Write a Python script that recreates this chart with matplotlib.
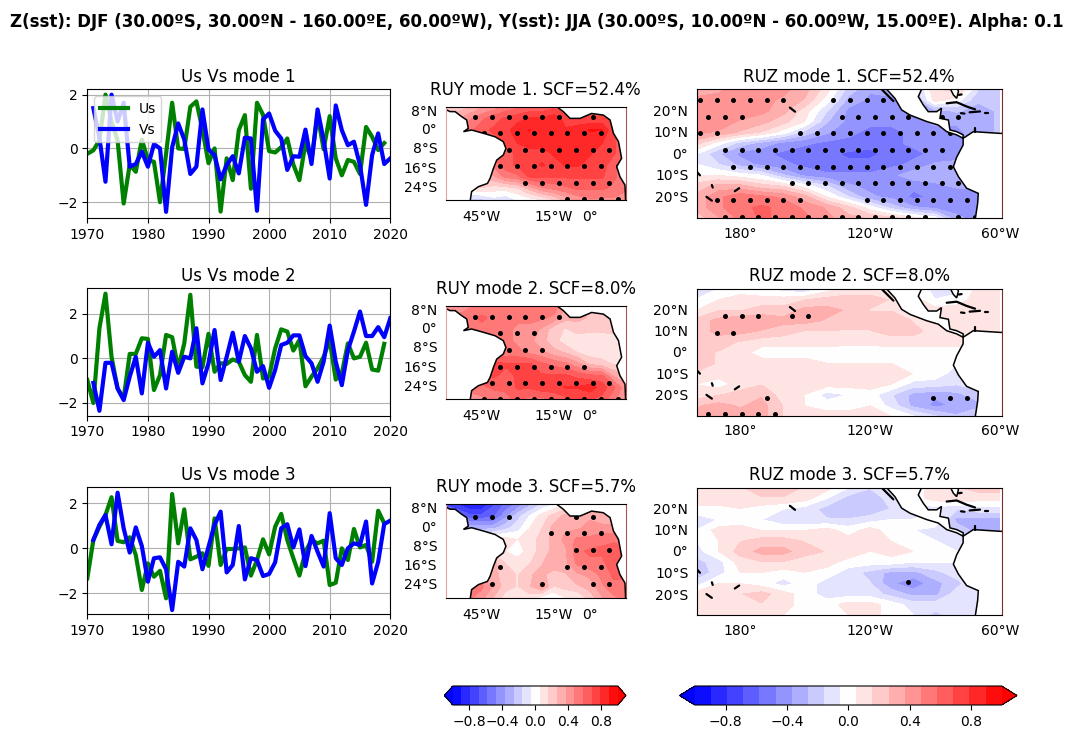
import matplotlib
matplotlib.use("Agg")
import matplotlib.pyplot as plt
import numpy as np

# ---- expansion coefficient time series -------------------------------------
years_us = list(range(1970, 2020))
years_vs = list(range(1971, 2021))

us_1 = [-0.2, -0.07, 0.3, 2.0, 1.0, 0.3, -2.05, -0.6, -0.87, 0.33, -0.43, -0.5, -2.0, -0.2, 1.7, 0.0, -0.02,
        1.55, 1.75, 0.7, -0.55, 0.0, -2.35, -0.37, -1.18, 0.68, 1.24, -1.5, 1.7, 1.25, -0.1, -0.15, 0.05, 0.37,
        -0.6, -1.18, 0.2, -0.4, 1.25, -0.03, 1.2, -0.37, -1.0, -0.43, -0.5, -0.95, 0.8, 0.43, -0.06, 0.2]
vs_1 = [1.5, 0.4, -1.24, 2.0, 1.0, 1.7, -0.68, -0.58, -0.12, -0.68, 0.16, 0.0, -2.36, 0.04, 0.93, 0.33, -0.95,
        -0.68, 1.45, -0.04, -0.25, -1.15, -0.62, -0.29, -0.93, 0.4, 0.37, -2.32, 1.08, 1.3, 0.66, 0.37, -0.8,
        -0.29, -0.31, 0.7, -0.58, 1.45, 0.3, -1.12, 1.6, 0.68, 0.12, 0.25, -0.62, -2.1, -0.25, 0.56, -0.58, -0.37]
us_2 = [-0.97, -2.0, 1.35, 2.9, 0.07, -1.35, -1.8, 0.2, 0.2, 0.9, 0.87, -1.42, -0.75, 1.05, 0.95, -0.45, 0.67,
        2.85, -0.37, -0.4, 1.1, -0.6, -0.22, -0.25, -0.05, -0.15, -0.75, -1.05, 1.05, -0.9, -0.82, 0.45, 1.3, 1.2,
        0.35, 0.82, -1.25, -0.82, -0.45, 0.07, 0.82, -0.95, -0.67, 0.67, 0.0, 0.07, 0.7, -0.5, -0.55, 0.65]
vs_2 = [-1.1, -2.35, -0.2, -0.2, -1.35, -1.87, -0.82, 0.07, -1.57, 0.7, 0.07, 0.37, -1.35, 0.3, -0.65, 0.07, 0.0,
        1.35, -1.12, -0.22, 1.27, -0.97, 0.07, 1.15, -0.15, 1.0, 0.45, -0.6, -0.35, -1.32, -0.52, 0.6, 0.7, 1.03,
        1.03, 0.1, -0.22, -1.05, -0.15, 1.47, -0.15, -1.2, 0.37, 1.2, 2.1, 1.0, 1.0, 1.4, 0.95, 1.8]
us_3 = [-1.33, 0.37, 0.96, 1.48, 2.27, 0.33, 0.27, 0.49, -0.3, -1.85, -0.67, -1.26, -1.0, -2.22, 2.41, 0.22, 1.73,
        -0.49, -0.37, -0.22, -0.78, 1.33, -0.74, -0.03, -0.03, 0.0, 0.04, -1.21, -0.52, 0.4, -0.27, 0.96, 1.53, 0.37,
        -0.44, -1.21, -0.15, 0.37, 0.22, 0.34, -1.63, -1.53, 0.0, -0.52, 0.86, 0.04, 0.15, -0.6, 1.67, 1.11]
vs_3 = [0.37, 1.04, 1.48, 0.18, 2.47, 0.89, -0.19, 0.93, 0.1, -1.48, -0.44, -0.4, -0.93, -2.74, -0.6, -0.81, 0.89,
        0.37, -0.93, 0.07, 1.04, 1.63, -1.07, -0.74, 0.99, -1.38, -0.44, -0.52, -1.23, -1.14, -0.62, 0.89, 1.07, 0.04,
        0.84, -0.79, 0.55, -0.15, -0.81, 1.56, -0.44, -0.74, 0.0, 0.22, 0.15, 1.19, -1.56, -0.6, 1.08, 1.23]

ts_limits = [(-2.6, 2.2), (-2.57, 3.14), (-2.93, 2.71)]

# ---- predictor (Pacific) regression maps ------------------------------------
pac_lons = [160, 170, 180, 190, 200, 210, 220, 230, 240, 250, 260, 270, 280, 290, 300]
pac_lats = [30, 25, 20, 15, 10, 5, 0, -5, -10, -15, -20, -25, -30]

ruz_1 = [
    [.30, .35, .40, .45, .40, .30, .10, -.20, -.35, -.30, -.25, .15, .20, -.15, -.20],
    [.40, .40, .40, .40, .35, .25, .00, -.30, -.40, -.40, -.35, .10, .00, -.25, -.25],
    [.45, .45, .45, .40, .30, .10, -.15, -.40, -.45, -.45, -.40, -.30, -.25, -.30, -.25],
    [.45, .45, .35, .30, .20, .05, -.25, -.40, -.45, -.45, -.40, -.35, -.35, -.30, -.25],
    [.40, .35, .25, .15, .00, -.20, -.35, -.45, -.50, -.50, -.45, -.40, -.40, -.30, -.25],
    [.20, .00, -.20, -.30, -.40, -.45, -.50, -.50, -.55, -.50, -.45, -.40, -.40, -.35, -.30],
    [-.05, -.25, -.40, -.45, -.50, -.55, -.55, -.60, -.60, -.55, -.50, -.45, -.40, -.35, -.30],
    [-.05, -.15, -.30, -.40, -.45, -.50, -.55, -.55, -.55, -.50, -.45, -.35, -.35, -.35, -.30],
    [.05, .05, .00, -.05, -.25, -.40, -.45, -.45, -.45, -.40, -.30, -.30, -.35, -.35, -.30],
    [.20, .30, .30, .20, .15, .00, -.15, -.35, -.40, -.45, -.45, -.40, -.35, -.35, -.30],
    [.30, .45, .55, .50, .45, .30, .05, -.15, -.35, -.40, -.50, -.45, -.45, -.40, -.35],
    [.30, .45, .55, .60, .55, .45, .35, .20, .00, -.20, -.35, -.40, -.40, -.40, -.35],
    [.20, .35, .50, .60, .55, .50, .40, .30, .25, .20, .10, .00, -.35, -.40, -.35],
]
ruz_2 = [
    [-.10, -.05, .00, -.05, -.10, -.15, .00, .10, .10, .10, .05, -.10, -.10, .10, .15],
    [-.05, .05, .10, .10, .10, .15, .20, .20, .20, .15, .10, -.05, .00, .10, .15],
    [.05, .15, .15, .20, .20, .30, .30, .25, .15, .15, .10, .10, .10, .10, .10],
    [.20, .30, .35, .35, .30, .30, .25, .20, .20, .25, .15, .10, .10, .10, .10],
    [.20, .30, .30, .25, .20, .15, .15, .15, .15, .20, .20, .10, .10, .10, .10],
    [.20, .20, .15, .10, .10, .10, .10, .10, .10, .10, .10, .10, .10, .10, .10],
    [.20, .15, .10, .00, .00, .00, .00, -.05, -.05, .00, .00, .00, .00, .00, .10],
    [.20, .15, .15, .10, .10, .10, .05, .05, .05, .05, .05, .00, -.05, -.05, .00],
    [.15, .10, .10, .15, .15, .15, .15, .15, .15, .10, .05, .00, -.10, -.10, -.10],
    [.05, .00, .10, .15, .10, .10, .10, .10, .10, .05, -.10, -.10, -.15, -.10, -.10],
    [.10, .15, .20, .25, .10, .05, -.10, -.05, .00, -.15, -.30, -.35, -.30, -.20, -.10],
    [.25, .30, .25, .30, .15, .05, .00, .00, .05, -.10, -.30, -.40, -.35, -.30, -.10],
    [.30, .35, .30, .30, .15, .10, .10, .10, .10, .05, -.05, -.15, -.25, -.15, -.10],
]
ruz_3 = [
    [.15, .15, .15, .20, .20, .15, .10, -.05, -.15, -.10, .00, .10, .15, .20, .20],
    [.15, .15, .10, .15, .15, .10, -.05, -.20, -.25, -.10, .00, .10, .15, .10, .10],
    [.00, .00, .05, .00, -.05, -.10, -.20, -.25, -.25, -.15, -.10, -.10, -.15, -.10, -.10],
    [-.10, -.05, .00, -.05, -.15, -.15, -.15, -.15, -.10, -.05, -.05, .05, -.30, -.30, -.30],
    [-.05, .10, .10, .05, .05, .05, .10, .00, .10, .00, -.05, -.10, -.20, -.30, -.30],
    [-.05, .05, .15, .20, .20, .15, .15, .10, .10, .05, .05, -.05, -.10, -.10, -.10],
    [-.10, .05, .20, .30, .30, .20, .15, .15, .05, .10, .05, .00, -.05, .00, .00],
    [-.20, -.10, .10, .15, .15, .10, .10, .00, .00, .00, -.05, -.05, -.05, .00, .00],
    [-.25, -.10, .05, .05, .00, .05, .00, -.10, -.20, -.30, -.30, -.20, -.10, .00, .00],
    [-.10, .05, .05, .00, -.10, .00, -.10, -.10, -.15, -.35, -.45, -.30, -.20, -.05, .00],
    [.10, .15, .15, .20, .10, .00, -.10, -.10, -.10, -.20, -.30, -.30, -.10, -.05, .00],
    [.10, .15, .15, .15, .10, .00, .00, .10, .10, .00, -.10, -.10, -.10, -.05, .00],
    [.10, .10, .10, .05, .05, .00, .00, .05, .10, .00, -.05, -.20, -.10, -.05, .00],
]

# ---- predictand (Atlantic) regression maps ----------------------------------
atl_lons = [-60, -55, -50, -45, -40, -35, -30, -25, -20, -15, -10, -5, 0, 5, 10, 15]
atl_lats = [10, 5, 0, -5, -10, -15, -20, -25, -30]

ruy_1 = [
    [.20, .20, .25, .35, .40, .50, .55, .60, .60, .65, .60, .60, .60, .60, .60, .60],
    [.30, .35, .45, .55, .65, .70, .75, .80, .80, .85, .75, .70, .70, .70, .70, .70],
    [.40, .50, .55, .65, .70, .75, .85, .90, .85, .85, .80, .85, .90, .90, .70, .60],
    [.40, .50, .55, .60, .65, .70, .80, .85, .85, .85, .80, .80, .85, .80, .70, .60],
    [.40, .40, .50, .55, .60, .65, .70, .75, .75, .80, .85, .85, .80, .75, .70, .60],
    [.30, .30, .40, .45, .50, .65, .70, .75, .80, .75, .80, .80, .75, .75, .60, .50],
    [.20, .20, .30, .30, .35, .50, .55, .70, .70, .70, .70, .70, .70, .70, .60, .50],
    [.10, .10, .10, .15, .10, .10, .15, .30, .45, .50, .55, .60, .60, .60, .55, .50],
    [-.10, -.15, -.20, -.20, -.10, -.15, -.05, .00, .05, .15, .30, .40, .45, .45, .45, .40],
]
ruy_2 = [
    [.40, .40, .45, .50, .50, .50, .50, .50, .50, .55, .35, .30, .25, .20, .20, .20],
    [.50, .50, .55, .60, .55, .55, .50, .50, .50, .45, .30, .30, .25, .25, .20, .20],
    [.55, .55, .55, .55, .55, .50, .45, .45, .35, .20, .15, .20, .20, .20, .20, .20],
    [.55, .55, .55, .55, .50, .50, .45, .40, .30, .20, .10, .10, .05, .05, .10, .10],
    [.55, .55, .55, .55, .55, .50, .50, .45, .40, .30, .25, .15, .10, .10, .10, .10],
    [.65, .65, .65, .65, .70, .70, .70, .70, .60, .55, .50, .40, .25, .20, .15, .15],
    [.60, .60, .65, .65, .70, .65, .70, .75, .70, .70, .70, .65, .60, .60, .35, .30],
    [.40, .45, .55, .55, .60, .60, .70, .70, .75, .75, .80, .80, .85, .75, .60, .40],
    [.20, .30, .35, .45, .50, .55, .60, .55, .55, .60, .65, .70, .70, .65, .50, .40],
]
ruy_3 = [
    [-.70, -.80, -.90, -.90, -.70, -.55, -.45, -.30, -.15, -.05, .05, .10, .10, .10, .10, .10],
    [-.50, -.55, -.65, -.65, -.60, -.40, -.20, -.05, .10, .20, .30, .35, .35, .30, .30, .30],
    [-.20, -.25, -.30, -.30, -.30, -.20, -.10, .05, .15, .30, .35, .35, .40, .40, .40, .35],
    [.00, .00, .00, .00, .10, .10, .05, .10, .20, .30, .40, .50, .50, .55, .55, .50],
    [.20, .25, .30, .30, .10, .05, .00, .10, .20, .30, .35, .55, .60, .60, .65, .60],
    [.30, .35, .35, .30, .30, .15, .10, .15, .25, .35, .35, .50, .55, .55, .65, .65],
    [.30, .35, .35, .30, .30, .20, .15, .25, .30, .20, .25, .35, .40, .50, .60, .60],
    [.50, .50, .50, .50, .35, .20, .15, .25, .40, .15, .20, .25, .30, .45, .55, .55],
    [.50, .55, .50, .40, .25, .10, .10, .10, .00, -.05, .05, .05, .20, .35, .45, .50],
]

# ---- locations passing the significance test --------------------------------
sig_lons_pac = [161.5, 165.3, 169.2, 173.0, 176.9, 180.7, 184.6, 188.4, 192.3, 196.1, 200.0, 203.8, 207.7, 211.5,
                215.4, 219.2, 223.1, 226.9, 230.8, 234.6, 238.5, 242.3, 246.2, 250.0, 253.9, 257.7, 261.6, 265.4,
                269.3, 273.1, 277.0, 280.8, 284.7, 288.5]
sig_lons_atl = [-47.7, -44.2, -40.7, -37.2, -33.7, -30.3, -26.8, -23.3, -19.8, -16.3, -12.8, -9.3, -5.8, -2.3, 1.2,
                4.7, 8.1, 11.6]

# each entry: latitude of the row, column numbers flagged in that row
sig_z_1 = [
    (25.0, [0, 2, 4, 6, 8, 10, 16, 18, 20, 22]),
    (17.3, [1, 3, 5, 17, 19, 21, 23, 25, 29, 31]),
    (9.5, [0, 2, 12, 14, 16, 18, 20, 22, 24, 26, 28, 30]),
    (1.8, [3, 5, 7, 9, 11, 13, 15, 17, 19, 21, 23, 25, 27, 29]),
    (-6.0, [4, 6, 8, 10, 12, 14, 16, 18, 20, 22, 24, 26, 28, 30]),
    (-13.7, [11, 13, 15, 17, 19, 21, 23, 25, 27, 29, 31]),
    (-21.4, [2, 4, 6, 8, 10, 12, 20, 22, 24, 26, 28, 30, 32]),
    (-29.2, [3, 5, 7, 9, 11, 13, 15, 17, 19, 21, 23, 25, 27, 31, 33]),
]
sig_z_2 = [
    (17.1, [3, 5, 7, 11, 13]),
    (9.4, [2, 4]),
    (-21.6, [8, 28, 30, 32]),
    (-29.2, [1, 3, 5, 7, 9]),
]
sig_z_3 = [
    (-14.5, [25]),
]
sig_y_1 = [
    (5.7, [0, 2, 4, 6, 8, 10, 14]),
    (-1.4, [1, 3, 5, 7, 9, 11, 13, 15]),
    (-8.4, [4, 6, 8, 10, 12, 14, 16]),
    (-15.5, [3, 5, 7, 9, 11, 13, 15, 17]),
    (-22.6, [6, 8, 10, 12, 14, 16]),
    (-29.7, [11, 13, 15, 17]),
]
sig_y_2 = [
    (5.3, [0, 2, 4, 6, 8, 10]),
    (-1.9, [3, 5, 7]),
    (-9.0, [4, 6, 8]),
    (-16.1, [3, 5, 7, 9, 11, 13]),
    (-23.3, [2, 4, 6, 8, 10, 12, 14, 16]),
    (-30.0, [1, 3, 5, 7, 9, 11, 13, 15, 17]),
]
sig_y_3 = [
    (4.7, [0, 2, 4, 12, 14]),
    (-2.4, [9, 11, 13, 15]),
    (-9.6, [12, 14, 16]),
    (-16.7, [3, 11, 13, 15]),
    (-23.9, [2, 8, 14, 16]),
]

# ---- coastlines (lon, lat) --------------------------------------------------
south_america_atl = [(-61, 9.3), (-58.2, 7.9), (-56.1, 7.9), (-53.3, 5.7), (-51.25, 4.3), (-50.6, 0.7), (-52.6, -0.7),
                     (-49.2, 0), (-44.3, -1.4), (-39.4, -2.9), (-36, -5), (-34.9, -7.9), (-36, -10.7), (-38.75, -12.9),
                     (-40.1, -16.4), (-41.5, -20.7), (-42.6, -22.9), (-46.4, -24.3), (-49.2, -26.4), (-49.9, -31),
                     (-61, -31)]
africa_atl = [(-13.75, 11), (-13.75, 10), (-11, 7.9), (-8.2, 5), (-4, 5), (0.8, 7.1), (5.7, 6.4), (8.5, 4.3),
              (9.9, -1.4), (12, -5), (13.3, -12.1), (11.25, -15.7), (12.6, -20), (14.7, -23.6), (15, -31), (16, -31),
              (16, 11)]
central_america = [(247.7, 31), (247.7, 30), (251.5, 25.8), (254.6, 20.4), (258.5, 18), (266.2, 15), (271.5, 13.4),
                   (275.4, 10.3), (280, 8.8), (283, 7.2), (283, 8.8), (280, 10.3), (276.9, 11.1), (276.2, 15.7),
                   (272.3, 16.5), (273, 21.2), (270.8, 19.6), (266.9, 19.6), (264.6, 22.7), (262.3, 26.6),
                   (263.8, 30), (263.8, 31)]
florida = [(277.2, 31), (277.2, 30), (278.5, 27.4), (280, 25.8), (280.8, 28.9), (280.3, 31)]
south_america_pac = [(283, 7.2), (287.7, 10.3), (300, 9.5), (303, 9.5), (303, -31), (288.5, -31), (289.7, -23),
                     (290, -18.4), (284.6, -16), (280.8, -10.6), (278.5, -6), (280, -1.6), (283, 4.1)]
pacific_islands = [
    [(245.4, 30), (250.8, 24.5)],
    [(203, 21.5), (205.4, 19.6)],
    [(164.5, -20), (167, -21.8)],
    [(167, -14.5), (167.4, -15.7)],
    [(177.6, -17.4), (179.6, -16)],
    [(160, -8.3), (161.5, -10)],
    [(275.4, 23.5), (280, 24), (284.6, 22), (288.5, 20.7)],
    [(282, 18.9), (283.6, 18.7)],
    [(286, 19.3), (290.8, 19.7)],
    [(293, 19.1), (294.5, 19.1)],
    [(288.5, 11.9), (288.5, 10.3)],
    [(281, 27.4), (282.3, 27.6)],
]

# ---- labels -----------------------------------------------------------------
suptitle = ("Z(sst): DJF (30.00ºS, 30.00ºN - 160.00ºE, 60.00ºW), "
            "Y(sst): JJA (30.00ºS, 10.00ºN - 60.00ºW, 15.00ºE). Alpha: 0.1")
scf = ["52.4", "8.0", "5.7"]
atl_xticks, atl_xlabels = [-45, -15, 0], ["45°W", "15°W", "0°"]
atl_yticks, atl_ylabels = [8.5, 0.5, -7.7, -15.9, -24], ["8°N", "0°", "8°S", "16°S", "24°S"]
pac_xticks, pac_xlabels = [180, 240, 300], ["180°", "120°W", "60°W"]
pac_yticks, pac_ylabels = [20.3, 10.3, 0.3, -9.7, -20], ["20°N", "10°N", "0°", "10°S", "20°S"]
cbar_ticks = [-0.8, -0.4, 0.0, 0.4, 0.8]

FIG_W, FIG_H = 1073, 739
fig = plt.figure(figsize=(FIG_W / 100, FIG_H / 100), dpi=100)


def axes_px(x0, y0, x1, y1):
    """Axes from a box given in figure pixels measured from the top left."""
    return fig.add_axes([x0 / FIG_W, 1 - y1 / FIG_H, (x1 - x0) / FIG_W, (y1 - y0) / FIG_H])


levels = np.linspace(-1, 1, 20)


def draw_map(ax, lons, lats, field, sig, sig_lons, lands, islands, title, xlim, ylim, xt, xl, yt, yl,
             title_pad, xtick_pad):
    cs = ax.contourf(lons, lats, np.array(field), levels=levels, cmap="bwr", extend="both", zorder=1)
    for lat, cols in sig:
        ax.scatter([sig_lons[c] for c in cols], [lat] * len(cols), s=13, c="k", linewidths=0, zorder=1.5)
    for poly in lands:
        ax.fill(*zip(*poly), facecolor="white", edgecolor="k", linewidth=1.1, zorder=2)
    for seg in islands:
        ax.plot(*zip(*seg), color="k", linewidth=1.6, solid_capstyle="round", zorder=2.2)
    ax.set_xlim(*xlim)
    ax.set_ylim(*ylim)
    ax.set_xticks(xt, xl)
    ax.set_yticks(yt, yl)
    ax.tick_params(length=0)
    ax.tick_params(axis="y", pad=6)
    ax.tick_params(axis="x", pad=xtick_pad)
    ax.set_title(title, pad=title_pad)
    return cs


left_rows = [(89.3, 218.3), (288.3, 415.7), (487.3, 614.3)]
mid_rows = [(106.7, 200), (305.7, 399), (504.3, 598)]
right_rows = [(89.3, 218.3), (289, 416), (487.7, 615.3)]
us_all = [us_1, us_2, us_3]
vs_all = [vs_1, vs_2, vs_3]
ruy_all = [ruy_1, ruy_2, ruy_3]
ruz_all = [ruz_1, ruz_2, ruz_3]
sig_y_all = [sig_y_1, sig_y_2, sig_y_3]
sig_z_all = [sig_z_1, sig_z_2, sig_z_3]

for k in range(3):
    # expansion coefficients
    ax = axes_px(87.3, left_rows[k][0], 390.3, left_rows[k][1])
    ax.plot(years_us, us_all[k], color="green", linewidth=3, label="Us")
    ax.plot(years_vs, vs_all[k], color="blue", linewidth=3, label="Vs")
    ax.set_xlim(1970, 2020)
    ax.set_ylim(*ts_limits[k])
    ax.set_xticks([1970, 1980, 1990, 2000, 2010, 2020])
    ax.set_yticks([-2, 0, 2])
    ax.grid(True)
    ax.set_title(f"Us Vs mode {k + 1}", pad=5.5)
    if k == 0:
        ax.legend(loc="upper left")

    # Atlantic map
    ax = axes_px(445.7, mid_rows[k][0], 625.7, mid_rows[k][1])
    cs_y = draw_map(ax, atl_lons, atl_lats, ruy_all[k], sig_y_all[k], sig_lons_atl,
                    [south_america_atl, africa_atl], [],
                    f"RUY mode {k + 1}. SCF={scf[k]}%", (-60, 15), (-30, 10),
                    atl_xticks, atl_xlabels, atl_yticks, atl_ylabels, 8.5, 7.5)
    ax.spines["left"].set_color("#e8a0a0")
    ax.spines["right"].set_color("#b05050")

    # Pacific map
    ax = axes_px(696.7, right_rows[k][0], 1001.7, right_rows[k][1])
    cs_z = draw_map(ax, pac_lons, pac_lats, ruz_all[k], sig_z_all[k], sig_lons_pac,
                    [central_america, florida, south_america_pac], pacific_islands,
                    f"RUZ mode {k + 1}. SCF={scf[k]}%", (160, 300.8), (-30, 30),
                    pac_xticks, pac_xlabels, pac_yticks, pac_ylabels, 5.5, 6)
    ax.spines["right"].set_color("#7a2a2a")

cax_y = axes_px(444.5, 686, 626, 705)
fig.colorbar(cs_y, cax=cax_y, orientation="horizontal", ticks=cbar_ticks)
cax_z = axes_px(679.5, 686, 1017, 705)
fig.colorbar(cs_z, cax=cax_z, orientation="horizontal", ticks=cbar_ticks)

fig.text(537 / FIG_W, 1 - 22 / FIG_H, suptitle, fontsize=12, fontweight="bold", ha="center", va="center")

fig.savefig("out.png", dpi=100)
